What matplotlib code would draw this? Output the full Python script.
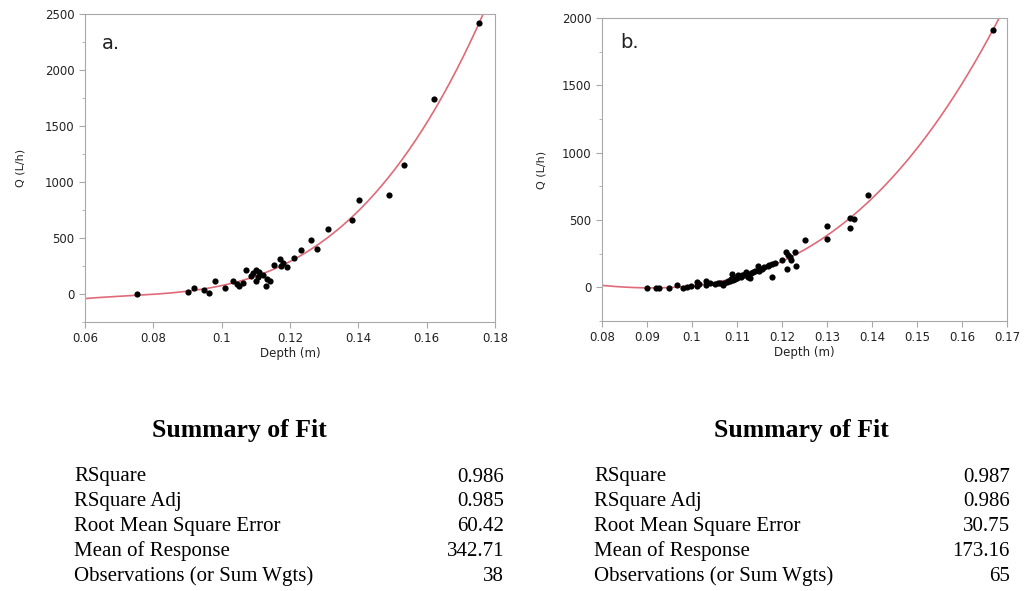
import numpy as np
import matplotlib.pyplot as plt
from matplotlib.ticker import MultipleLocator

# panel a data (depth m, discharge L/h)
depth_a = [0.0751, 0.0900, 0.0920, 0.0949, 0.0962, 0.0980, 0.1010, 0.1032, 0.1045,
           0.1052, 0.1061, 0.1070, 0.1085, 0.1093, 0.1100, 0.1100, 0.1105, 0.1110,
           0.1120, 0.1130, 0.1134, 0.1141, 0.1153, 0.1171, 0.1173, 0.1180, 0.1190,
           0.1213, 0.1232, 0.1262, 0.1280, 0.1310, 0.1382, 0.1401, 0.1491, 0.1533,
           0.1622, 0.1754]
q_a = [0, 15, 51, 33, 12, 113, 57, 113, 90,
       75, 98, 218, 160, 188, 218, 113, 150, 194,
       170, 69, 134, 113, 263, 313, 248, 280, 242,
       322, 391, 483, 403, 576, 665, 838, 886, 1152,
       1740, 2417]

# panel b data
depth_b = [0.0900, 0.0919, 0.0926, 0.0948, 0.0967, 0.0979, 0.0988, 0.0997, 0.1010,
           0.1010, 0.1016, 0.1030, 0.1030, 0.1040, 0.1050, 0.1058, 0.1062, 0.1069,
           0.1072, 0.1077, 0.1080, 0.1084, 0.1086, 0.1088, 0.1092, 0.1095, 0.1099,
           0.1100, 0.1103, 0.1106, 0.1108, 0.1112, 0.1115, 0.1118, 0.1121, 0.1123,
           0.1125, 0.1129, 0.1132, 0.1136, 0.1140, 0.1147, 0.1149, 0.1155, 0.1160,
           0.1169, 0.1172, 0.1177, 0.1178, 0.1185, 0.1200, 0.1209, 0.1210, 0.1213,
           0.1218, 0.1220, 0.1229, 0.1230, 0.1250, 0.1299, 0.1299, 0.1350, 0.1351,
           0.1359, 0.1390, 0.1669]
q_b = [-5, -5, -5, -5, 17, -5, 0, 7, 42,
       12, 25, 50, 20, 30, 28, 32, 35, 20,
       30, 37, 45, 50, 60, 99, 55, 62, 75,
       70, 95, 87, 80, 94, 90, 100, 112, 95,
       80, 70, 105, 112, 120, 161, 124, 135, 150,
       161, 165, 174, 80, 180, 200, 261, 137, 240,
       224, 205, 261, 157, 348, 455, 360, 514, 440,
       504, 683, 1913]

stat_names = ["RSquare", "RSquare Adj", "Root Mean Square Error",
              "Mean of Response", "Observations (or Sum Wgts)"]
stats_a = ["0.986", "0.985", "60.42", "342.71", "38"]
stats_b = ["0.987", "0.986", "30.75", "173.16", "65"]

W, H = 1024, 591
fig = plt.figure(figsize=(W / 100, H / 100), dpi=100)

line_col = '#e06a78'
spine_col = '#a8a8a8'


def panel(rect, x, y, xlim, ylim, xstep, tag, tag_xy, ypad):
    ax = fig.add_axes(rect)
    coef = np.polyfit(x, y, 3)
    xx = np.linspace(xlim[0], xlim[1], 300)
    ax.plot(xx, np.polyval(coef, xx), color=line_col, lw=1.2, zorder=2)
    ax.scatter(x, y, s=20, color='black', zorder=3, linewidths=0)
    ax.set_xlim(*xlim)
    ax.set_ylim(*ylim)
    ax.xaxis.set_major_locator(MultipleLocator(xstep))
    ax.yaxis.set_major_locator(MultipleLocator(500))
    ax.yaxis.set_minor_locator(MultipleLocator(250))
    ax.xaxis.set_major_formatter(plt.FuncFormatter(lambda v, p: f"{v:g}"))
    for s in ax.spines.values():
        s.set_color(spine_col)
    ax.tick_params(which='both', colors=spine_col, labelcolor='#222222',
                   labelsize=8.5, direction='out')
    ax.tick_params(which='major', length=4)
    ax.tick_params(which='minor', length=2.5)
    ax.set_xlabel("Depth (m)", fontsize=8.5, labelpad=1, color='#222222')
    ax.set_ylabel("Q (L/h)", fontsize=8, labelpad=ypad, color='#222222')
    ax.text(tag_xy[0], tag_xy[1], tag, transform=ax.transAxes, fontsize=14,
            ha='left', va='center', color='#222222')
    return ax


panel([85 / W, 1 - 322 / H, 410 / W, 308 / H], depth_a, q_a,
      (0.06, 0.18), (-250, 2500), 0.02, "a.", (0.04, 0.905), 14)
panel([602 / W, 1 - 321 / H, 405 / W, 303 / H], depth_b, q_b,
      (0.08, 0.17), (-250, 2000), 0.01, "b.", (0.045, 0.92), 11)


def summary(x_title, x_left, x_right, values):
    fig.text(x_title / W, 1 - 431 / H, "Summary of Fit", family='Liberation Serif',
             fontweight='bold', fontsize=18.5, ha='center', va='center')
    for i, (name, val) in enumerate(zip(stat_names, values)):
        yy = 1 - (477 + 24.8 * i) / H
        fig.text(x_left / W, yy, name, family='Liberation Serif', fontsize=15,
                 ha='left', va='center')
        fig.text(x_right / W, yy, val, family='Liberation Serif', fontsize=15,
                 ha='right', va='center')


summary(239, 74, 504, stats_a)
summary(801, 594, 1010, stats_b)

fig.savefig("out.png", dpi=100)
